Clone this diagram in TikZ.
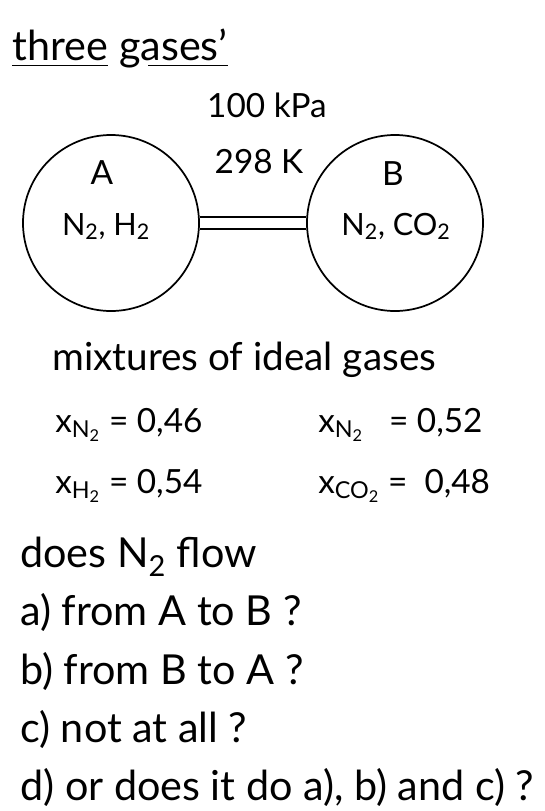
\documentclass[tikz,border=0pt]{standalone}
\usepackage{fontspec}
\setmainfont{Lato}
\usetikzlibrary{positioning}

\newcommand{\sbs}[1]{\textsubscript{#1}}

\tikzset{
  vessel/.style={draw,circle,line width=1.3pt,minimum size=132pt,inner sep=0pt},
  hand/.style={font=\fontsize{31}{36}\selectfont,inner sep=0pt},
  mid hand/.style={font=\fontsize{29}{34}\selectfont,inner sep=0pt},
  small hand/.style={font=\fontsize{25}{30}\selectfont,inner sep=0pt},
  tiny hand/.style={font=\fontsize{23}{28}\selectfont,inner sep=0pt},
  tube/.style={line width=1.3pt},
  underl/.style={line width=1.2pt},
}

\begin{document}
\begin{tikzpicture}[x=0.75pt,y=-0.75pt]
\useasboundingbox (0,0) rectangle (544,811);

% title
\node[hand,anchor=base west] (ttl1) at (12,60) {three};
\node[hand,right=8pt of ttl1.base east,anchor=base west] (ttl2) {gases'};
\draw[underl] ([yshift=-4pt]ttl1.base west) -- ([yshift=-4pt]ttl1.base east);
\draw[underl] ([xshift=22pt,yshift=-4pt]ttl2.base west) -- ([yshift=-4pt]ttl2.base east);

% conditions
\node[small hand,anchor=base] (pres) at (267,117) {100 kPa};
\node[small hand,anchor=base] (temp) at (259,173) {298 K};

% the two vessels and the tube
\node[vessel] (vesA) at (111,223) {};
\node[vessel] (vesB) at (395,223) {};
\draw[tube] ([yshift=4.5pt]vesA.east) -- ([yshift=4.5pt]vesB.west);
\draw[tube] ([yshift=-4.5pt]vesA.east) -- ([yshift=-4.5pt]vesB.west);

\node[small hand,anchor=base] (labA) at (102,184) {A};
\node[small hand,anchor=base] (labB) at (393,185) {B};
\node[tiny hand,anchor=base] (gasA) at (106,235) {N\sbs{2}, H\sbs{2}};
\node[tiny hand,anchor=base] (gasB) at (396,235) {N\sbs{2}, CO\sbs{2}};

% mole fractions
\node[mid hand,anchor=base west] (mix) at (52,370) {mixtures of ideal gases};
\node[small hand,anchor=base west] (xa1) at (55,432) {x\sbs{N\sbs{2}} = 0,46};
\node[small hand,anchor=base west] (xa2) at (55,493) {x\sbs{H\sbs{2}} = 0,54};
\node[small hand,anchor=base west] (xb1) at (318,432) {x\sbs{N\sbs{2}} \ \ = 0,52};
\node[small hand,anchor=base west] (xb2) at (318,493) {x\sbs{CO\sbs{2}} = \ 0,48};

% question
\node[hand,anchor=base west] (q0) at (20,567) {does N\sbs{2} flow};
\node[hand,anchor=base west] (q1) at (20,625) {a) from A to B ?};
\node[hand,anchor=base west] (q2) at (20,684) {b) from B to A ?};
\node[hand,anchor=base west] (q3) at (20,742) {c) not at all ?};
\node[hand,anchor=base west] (q4) at (20,800) {d) or does it do a), b) and c) ?};
\end{tikzpicture}
\end{document}
